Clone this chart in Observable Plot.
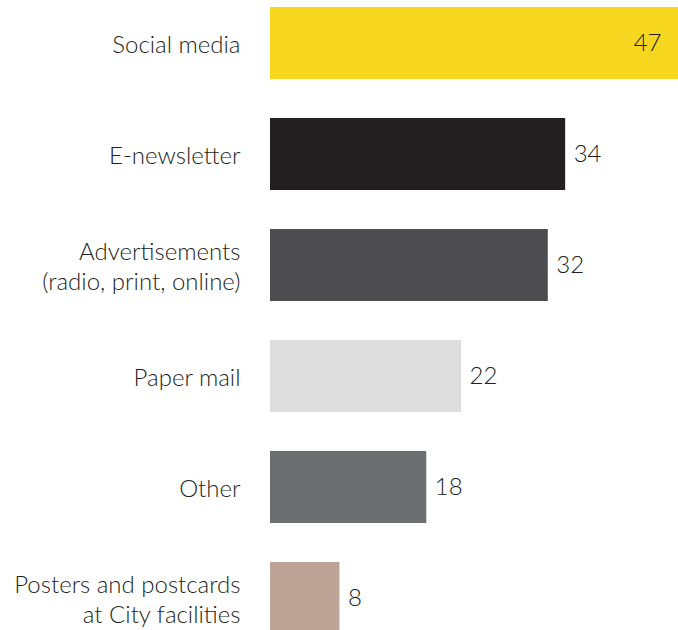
<!DOCTYPE html>
<html>
<head>
<meta charset="utf-8">
<script src="https://cdn.jsdelivr.net/npm/d3@7"></script>
<script src="https://cdn.jsdelivr.net/npm/@observablehq/plot@0.6"></script>
<style>
  html, body { margin: 0; padding: 0; background: #fff; }
  #chart svg { display: block; }
</style>
</head>
<body>
<div id="chart"></div>
<script>
const categories = [
  "Social media",
  "E-newsletter",
  "Advertisements\n(radio, print, online)",
  "Paper mail",
  "Other",
  "Posters and postcards\nat City facilities"
];
const values = [47, 34, 32, 22, 18, 8];
const colors = ["#F7D61F", "#231F20", "#4D4D4F", "#DDDDDD", "#6D6E71", "#BCA497"];

const data = categories.map((c, i) => ({category: c, value: values[i]}));
const maxValue = d3.max(values);

const chart = Plot.plot({
  width: 678,
  height: 630,
  marginLeft: 270,
  marginRight: 0,
  marginTop: 0,
  marginBottom: 0,
  style: {fontFamily: "Lato, sans-serif", fontSize: "24px", fontWeight: 300, color: "#231F20", background: "#fff"},
  x: {domain: [0, maxValue], range: [270, 678], axis: null},
  y: {domain: categories, range: [-12.6, 653.4], paddingInner: 0.35, paddingOuter: 0.175, axis: null},
  color: {domain: categories, range: colors},
  marks: [
    Plot.barX(data, {y: "category", x: "value", fill: "category"}),
    Plot.text(data, {
      y: "category", text: "category", frameAnchor: "left", dx: -30,
      textAnchor: "end", lineHeight: 1.25, fill: "#231F20", fontSize: 24
    }),
    Plot.text(data.filter(d => d.value === maxValue), {
      y: "category", x: "value", text: d => String(d.value), dx: -17,
      textAnchor: "end", fill: "#231F20", fontSize: 24
    }),
    Plot.text(data.filter(d => d.value !== maxValue), {
      y: "category", x: "value", text: d => String(d.value), dx: 8,
      textAnchor: "start", fill: "#231F20", fontSize: 24
    })
  ]
});
document.getElementById("chart").appendChild(chart);
</script>
</body>
</html>
